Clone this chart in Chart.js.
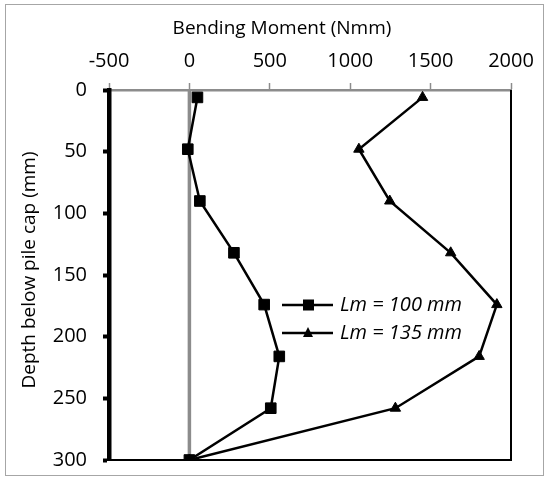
<!DOCTYPE html>
<html>
<head>
<meta charset="utf-8">
<script src="https://cdn.jsdelivr.net/npm/chart.js@4.4.1/dist/chart.umd.min.js"></script>
<style>
  html, body { margin: 0; padding: 0; background: #fff; }
  #wrap { position: relative; width: 549px; height: 477px; }
</style>
</head>
<body>
<div id="wrap"><canvas id="chart"></canvas></div>
<script>
// depth below pile cap (mm) and bending moment (Nmm)
const depthMm = [6, 48, 90, 132, 174, 216, 258, 300];
const momentLm100 = [50, -10, 65, 277, 465, 559, 506, 0];
const momentLm135 = [1450, 1054, 1246, 1625, 1912, 1802, 1281, 0];
const seriesLabels = ["Lm = 100 mm", "Lm = 135 mm"];
const xTitle = "Bending Moment (Nmm)";
const yTitle = "Depth below pile cap (mm)";
const xTicks = [-500, 0, 500, 1000, 1500, 2000];
const yTicks = [0, 50, 100, 150, 200, 250, 300];

const FONT = "'Open Sans', sans-serif";

const toPoints = (xs) => xs.map((x, i) => ({ x: x, y: depthMm[i] }));

// outer frame, zero line and the right/bottom border of the plot
const framePlugin = {
  id: "frame",
  beforeDraw(chart) {
    const ctx = chart.ctx;
    ctx.save();
    ctx.strokeStyle = "#a6a6a6";
    ctx.lineWidth = 1;
    ctx.strokeRect(5.5, 4.5, 538, 471);
    ctx.restore();
  },
  beforeDatasetsDraw(chart) {
    const { ctx, chartArea } = chart;
    const x0 = chart.scales.x.getPixelForValue(0);
    ctx.save();
    ctx.strokeStyle = "#8c8c8c";
    ctx.lineWidth = 3.5;
    ctx.beginPath();
    ctx.moveTo(x0, chartArea.top);
    ctx.lineTo(x0, chartArea.bottom);
    ctx.stroke();
    ctx.strokeStyle = "#000";
    ctx.lineWidth = 2;
    ctx.beginPath();
    ctx.moveTo(chartArea.left, chartArea.bottom);
    ctx.lineTo(chartArea.right, chartArea.bottom);
    ctx.lineTo(chartArea.right, chartArea.top);
    ctx.stroke();
    ctx.restore();
  },
};

// axis titles (the reference does not centre them on the plot) and legend
const textPlugin = {
  id: "texts",
  afterDraw(chart) {
    const ctx = chart.ctx;
    ctx.save();
    ctx.fillStyle = "#000";
    ctx.font = "19px " + FONT;
    ctx.textAlign = "center";
    ctx.textBaseline = "alphabetic";
    ctx.fillText(xTitle, 282, 34);
    ctx.save();
    ctx.translate(35, 270);
    ctx.rotate(-Math.PI / 2);
    ctx.fillText(yTitle, 0, 0);
    ctx.restore();

    const rows = [
      { y: 305, style: "rect" },
      { y: 333, style: "triangle" },
    ];
    rows.forEach((row, i) => {
      ctx.strokeStyle = "#000";
      ctx.fillStyle = "#000";
      ctx.lineWidth = 2.5;
      ctx.beginPath();
      ctx.moveTo(282, row.y);
      ctx.lineTo(333, row.y);
      ctx.stroke();
      if (row.style === "rect") {
        ctx.fillRect(303, row.y - 5.5, 11, 11);
      } else {
        ctx.beginPath();
        ctx.moveTo(308, row.y - 6);
        ctx.lineTo(313, row.y + 4);
        ctx.lineTo(303, row.y + 4);
        ctx.closePath();
        ctx.fill();
      }
      ctx.font = "italic 20px " + FONT;
      ctx.textBaseline = "middle";
      ctx.textAlign = "left";
      ctx.fillText(seriesLabels[i], 340, row.y);
    });
    ctx.restore();
  },
};

new Chart(document.getElementById("chart"), {
  type: "scatter",
  data: {
    datasets: [
      {
        label: seriesLabels[0],
        data: toPoints(momentLm100),
        showLine: true,
        borderColor: "#000",
        backgroundColor: "#000",
        borderWidth: 2.5,
        pointStyle: "rect",
        pointRadius: 7.5,
        pointBorderWidth: 1,
        tension: 0,
      },
      {
        label: seriesLabels[1],
        data: toPoints(momentLm135),
        showLine: true,
        borderColor: "#000",
        backgroundColor: "#000",
        borderWidth: 2.5,
        pointStyle: "triangle",
        pointRadius: 6,
        pointBorderWidth: 1,
        tension: 0,
      },
    ],
  },
  options: {
    responsive: true,
    maintainAspectRatio: false,
    animation: false,
    layout: { padding: { left: 0, top: 0, right: 38, bottom: 17 } },
    plugins: {
      legend: { display: false },
      tooltip: { enabled: false },
    },
    scales: {
      x: {
        type: "linear",
        position: "top",
        min: -500,
        max: 2000,
        afterBuildTicks: (scale) => {
          scale.ticks = xTicks.map((v) => ({ value: v }));
        },
        afterFit: (scale) => {
          scale.height = 90;
          scale.paddingLeft = 0;
          scale.paddingRight = 0;
        },
        ticks: {
          color: "#000",
          font: { family: FONT, size: 20 },
          padding: 10,
          callback: (v) => String(v),
        },
        grid: {
          drawOnChartArea: false,
          drawTicks: true,
          tickLength: 7,
          tickColor: "#8c8c8c",
          tickWidth: 1.5,
        },
        border: { color: "#8c8c8c", width: 2.5 },
      },
      y: {
        type: "linear",
        reverse: true,
        min: 0,
        max: 300,
        afterBuildTicks: (scale) => {
          scale.ticks = yTicks.map((v) => ({ value: v }));
        },
        afterFit: (scale) => {
          scale.width = 109;
          scale.paddingTop = 0;
          scale.paddingBottom = 0;
        },
        ticks: {
          color: "#000",
          font: { family: FONT, size: 20 },
          padding: 16,
          callback: (v) => String(v),
        },
        grid: {
          drawOnChartArea: false,
          drawTicks: true,
          tickLength: 6,
          tickColor: "#000",
          tickWidth: 4,
        },
        border: { color: "#000", width: 4.5 },
      },
    },
  },
  plugins: [framePlugin, textPlugin],
});
</script>
</body>
</html>
